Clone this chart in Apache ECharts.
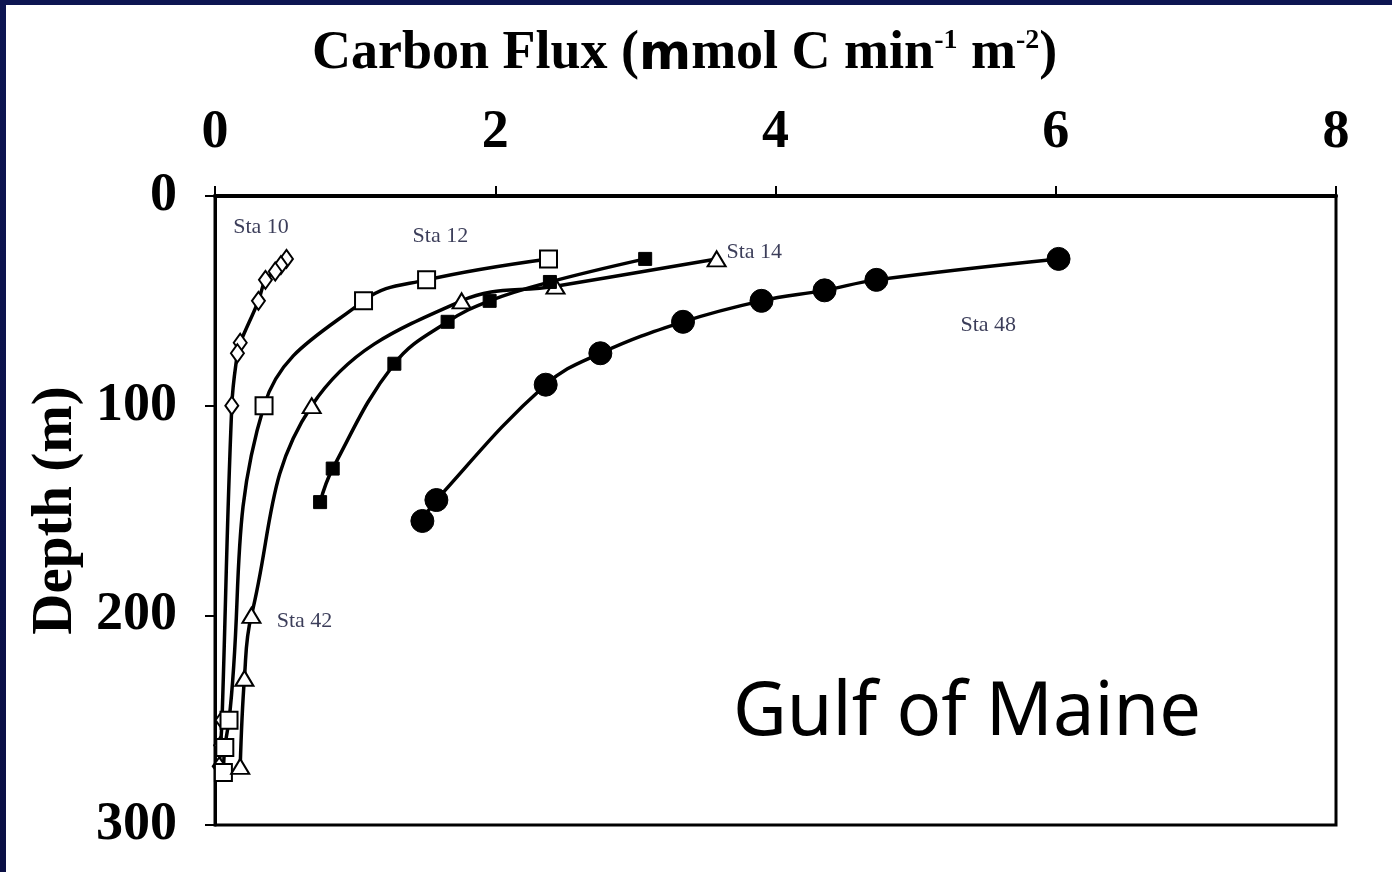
<!DOCTYPE html>
<html>
<head>
<meta charset="utf-8">
<title>Carbon Flux vs Depth — Gulf of Maine</title>
<script src="https://cdn.jsdelivr.net/npm/echarts@6/dist/echarts.min.js"></script>
<style>
  html, body { margin: 0; padding: 0; width: 1392px; height: 872px; overflow: hidden;
    background: linear-gradient(180deg, #0d1552 0%, #0a0f45 100%); }
  #chart { position: absolute; left: 6px; top: 5px; width: 1386px; height: 867px; background: #fff; }
</style>
</head>
<body>
<div id="chart"></div>
<script>
// Carbon flux (x) against depth (y) for each station: [flux, depth]
const sta10 = [[0.51, 30], [0.47, 33], [0.43, 36], [0.36, 40], [0.31, 50], [0.18, 70], [0.16, 75], [0.12, 100], [0.05, 250], [0.04, 262], [0.03, 272]];
const sta12 = [[2.38, 30], [1.51, 40], [1.06, 50], [0.35, 100], [0.10, 250], [0.07, 263], [0.06, 275]];
const sta14 = [[3.07, 30], [2.39, 41], [1.96, 50], [1.66, 60], [1.28, 80], [0.84, 130], [0.75, 146]];
const sta42 = [[3.58, 30], [2.43, 43], [1.76, 50], [0.69, 100], [0.26, 200], [0.21, 230], [0.18, 272]];
const sta48 = [[6.02, 30], [4.72, 40], [4.35, 45], [3.90, 50], [3.34, 60], [2.75, 75], [2.36, 90], [1.58, 145], [1.48, 155]];

// Station name annotations, anchored in data space: [flux, depth, text]
const stationLabels = [
  [0.13, 15, 'Sta 10'],
  [1.41, 19, 'Sta 12'],
  [3.65, 27, 'Sta 14'],
  [0.44, 203, 'Sta 42'],
  [5.32, 61.5, 'Sta 48']
];

const fluxTicks = [0, 2, 4, 6, 8];
const depthTicks = [0, 100, 200, 300];

const chart = echarts.init(document.getElementById('chart'), null, { renderer: 'canvas' });

const serif = '"Liberation Serif", "DejaVu Serif", serif';
const lineStyle = { color: '#000', width: 3.5 };
const open = { color: '#fff', borderColor: '#000', borderWidth: 2 };
const filled = { color: '#000', borderColor: '#000', borderWidth: 1 };

function station(name, data, symbol, size, item) {
  return {
    name, type: 'line', data, smooth: 0.4,
    symbol, symbolSize: size, showAllSymbol: true,
    lineStyle, itemStyle: item,
    emphasis: { disabled: true }, z: 3
  };
}

chart.setOption({
  animation: false,
  backgroundColor: '#fff',
  grid: { left: 209, right: 56, top: 191, bottom: 47, show: true, borderColor: '#000', borderWidth: 3 },
  graphic: [
    {
      type: 'text', left: 306, top: 22,
      style: {
        text: '{t|Carbon Flux (}{mu|m}{t|mol C min}{sup|-1}{t| m}{sup|-2}{t|)}',
        rich: {
          t: { fontFamily: serif, fontWeight: 'bold', fontSize: 54, fill: '#000', verticalAlign: 'bottom' },
          mu: { fontFamily: '"DejaVu Sans", sans-serif', fontWeight: 'bold', fontSize: 50, fill: '#000', verticalAlign: 'bottom' },
          sup: { fontFamily: serif, fontWeight: 'bold', fontSize: 28, fill: '#000', verticalAlign: 'top', padding: [0, 0, 26, 0] }
        }
      }
    },
    {
      type: 'text', left: 727, top: 672,
      style: { text: 'Gulf of Maine', fontFamily: '"Noto Sans", "Open Sans", sans-serif', fontSize: 74, fill: '#000' }
    }
  ],
  xAxis: {
    type: 'value', position: 'top', min: 0, max: 8, interval: 2,
    axisLine: { show: true, lineStyle: { color: '#000', width: 4 } },
    axisTick: { show: true, length: 10, lineStyle: { color: '#000', width: 2 } },
    axisLabel: {
      margin: 36, color: '#000', fontFamily: serif, fontWeight: 'bold', fontSize: 54,
      formatter: v => fluxTicks.includes(v) ? String(v) : ''
    },
    splitLine: { show: false }
  },
  yAxis: {
    type: 'value', inverse: true, min: 0, max: 300, interval: 100,
    name: 'Depth (m)', nameLocation: 'middle', nameGap: 128, nameRotate: 90,
    nameTextStyle: { color: '#000', fontFamily: serif, fontWeight: 'bold', fontSize: 57 },
    axisLine: { show: true, lineStyle: { color: '#000', width: 3 } },
    axisTick: { show: true, length: 10, lineStyle: { color: '#000', width: 2 } },
    axisLabel: {
      margin: 38, color: '#000', fontFamily: serif, fontWeight: 'bold', fontSize: 54,
      formatter: v => depthTicks.includes(v) ? String(v) : ''
    },
    splitLine: { show: false }
  },
  series: [
    station('Sta 10', sta10, 'diamond', [13, 18], open),
    station('Sta 12', sta12, 'rect', 17, open),
    station('Sta 42', sta42, 'triangle', [18, 15], open),
    station('Sta 14', sta14, 'rect', 13, filled),
    station('Sta 48', sta48, 'circle', 23, filled),
    {
      name: 'labels', type: 'scatter', symbolSize: 0, z: 4,
      data: stationLabels.map(d => ({ value: [d[0], d[1]], name: d[2] })),
      label: {
        show: true, position: 'right', distance: 0, formatter: p => p.name,
        fontFamily: serif, fontSize: 22, color: '#0a0c30'
      },
      emphasis: { disabled: true }
    }
  ]
});
</script>
</body>
</html>
